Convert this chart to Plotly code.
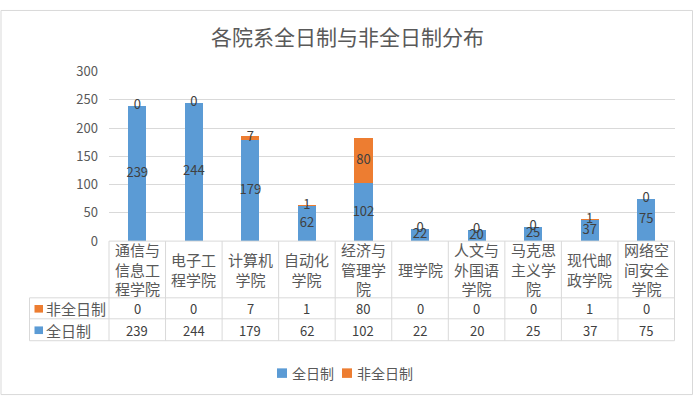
import plotly.graph_objects as go

# ---- data ----
categories = ["通信与信息工程学院", "电子工程学院", "计算机学院", "自动化学院", "经济与管理学院",
              "理学院", "人文与外国语学院", "马克思主义学院", "现代邮政学院", "网络空间安全学院"]
category_labels = ["通信与<br>信息工<br>程学院", "电子工<br>程学院", "计算机<br>学院", "自动化<br>学院",
                   "经济与<br>管理学<br>院", "理学院", "人文与<br>外国语<br>学院", "马克思<br>主义学<br>院",
                   "现代邮<br>政学院", "网络空<br>间安全<br>学院"]
full_time = [239, 244, 179, 62, 102, 22, 20, 25, 37, 75]
part_time = [0, 0, 7, 1, 80, 0, 0, 0, 1, 0]
series_names = ["全日制", "非全日制"]
y_ticks = [0, 50, 100, 150, 200, 250, 300]
title_text = "各院系全日制与非全日制分布"

# ---- style ----
W, H = 694, 405
BLUE = "#5B9BD5"
ORANGE = "#ED7D31"
GRID = "#D9D9D9"
TXT = "#595959"
LBL = "#404040"
FONT = "Noto Sans CJK SC"

def px(x):
    return x / W

def py(y):
    return 1 - y / H

x_left, x_right = 109, 674.5
y_zero, y_top = 242.5, 64.5

fig = go.Figure()
fig.add_trace(go.Bar(x=categories, y=full_time, name=series_names[0], marker_color=BLUE,
                     marker_line_width=0, showlegend=False))
fig.add_trace(go.Bar(x=categories, y=part_time, name=series_names[1], marker_color=ORANGE,
                     marker_line_width=0, showlegend=False))

# data labels
fig.add_trace(go.Scatter(x=categories, y=[v / 2 for v in full_time], mode="text",
                         text=[str(v) for v in full_time],
                         textfont=dict(color=LBL, size=13, family=FONT),
                         showlegend=False, hoverinfo="skip"))
fig.add_trace(go.Scatter(x=categories, y=[f + p / 2 for f, p in zip(full_time, part_time)], mode="text",
                         text=[str(v) for v in part_time],
                         textfont=dict(color=LBL, size=13, family=FONT),
                         showlegend=False, hoverinfo="skip"))

shapes = []
annotations = []

# outer border
shapes.append(dict(type="rect", xref="paper", yref="paper", x0=px(1), x1=px(692.5), y0=py(403.5), y1=py(0.5),
                   line=dict(color=GRID, width=1)))

# table lines
row_lines = [242.5, 302, 324, 347]
for i, yy in enumerate(row_lines):
    x0 = x_left if i == 0 else 29.5
    shapes.append(dict(type="line", xref="paper", yref="paper", x0=px(x0), x1=px(x_right),
                       y0=py(yy), y1=py(yy), line=dict(color=GRID, width=1)))
n = len(categories)
col_w = (x_right - x_left) / n
for k in range(n + 1):
    xx = x_left + col_w * k
    shapes.append(dict(type="line", xref="paper", yref="paper", x0=px(xx), x1=px(xx),
                       y0=py(242.5), y1=py(347), line=dict(color=GRID, width=1)))
shapes.append(dict(type="line", xref="paper", yref="paper", x0=px(29.5), x1=px(29.5),
                   y0=py(302), y1=py(347), line=dict(color=GRID, width=1)))

# table header and cells
for i, cat in enumerate(categories):
    annotations.append(dict(x=cat, xref="x", y=py(272), yref="paper", text=category_labels[i],
                            showarrow=False, font=dict(size=15, color=TXT, family=FONT),
                            xanchor="center", yanchor="middle", align="center"))
    annotations.append(dict(x=cat, xref="x", y=py(313), yref="paper", text=str(part_time[i]),
                            showarrow=False, font=dict(size=13, color=LBL, family=FONT),
                            xanchor="center", yanchor="middle"))
    annotations.append(dict(x=cat, xref="x", y=py(336), yref="paper", text=str(full_time[i]),
                            showarrow=False, font=dict(size=13, color=LBL, family=FONT),
                            xanchor="center", yanchor="middle"))

# table row keys
for name, color, yc in [(series_names[1], ORANGE, 313.5), (series_names[0], BLUE, 336)]:
    shapes.append(dict(type="rect", xref="paper", yref="paper", x0=px(34.5), x1=px(43), y0=py(yc + 4),
                       y1=py(yc - 4), fillcolor=color, line=dict(width=0)))
    annotations.append(dict(x=px(44), xref="paper", y=py(yc), yref="paper", text=name, showarrow=False,
                            font=dict(size=15, color=TXT, family=FONT), xanchor="left", yanchor="middle"))

# legend (bottom)
for name, color, xs in [(series_names[0], BLUE, 277), (series_names[1], ORANGE, 342)]:
    shapes.append(dict(type="rect", xref="paper", yref="paper", x0=px(xs), x1=px(xs + 10), y0=py(386),
                       y1=py(376), fillcolor=color, line=dict(width=0)))
    annotations.append(dict(x=px(xs + 13), xref="paper", y=py(381), yref="paper", text=name, showarrow=False,
                            font=dict(size=14, color=TXT, family=FONT), xanchor="left", yanchor="middle"))

# title
annotations.append(dict(x=px(347), xref="paper", y=py(27), yref="paper", text=title_text, showarrow=False,
                        font=dict(size=21, color=TXT, family=FONT), xanchor="center", yanchor="middle"))

fig.update_layout(
    width=W, height=H,
    margin=dict(l=0, r=0, t=0, b=0),
    paper_bgcolor="white", plot_bgcolor="white",
    barmode="stack", bargap=0.68,
    font=dict(family=FONT, color=TXT),
    shapes=shapes, annotations=annotations,
    showlegend=False,
    xaxis=dict(domain=[px(x_left), px(x_right)], showticklabels=False, showgrid=False,
               zeroline=False, showline=False, range=[-0.5, n - 0.5], fixedrange=True),
    yaxis=dict(domain=[py(y_zero), py(y_top)], range=[0, 300], tickvals=y_ticks,
               showgrid=True, gridcolor=GRID, gridwidth=1, zeroline=False, showline=False,
               tickfont=dict(size=13, color=TXT, family=FONT), ticks="", ticklabelstandoff=10),
)

fig.write_html("out.html", config={"displayModeBar": False},
               post_script="document.body.style.margin='0';document.body.style.overflow='hidden';")
